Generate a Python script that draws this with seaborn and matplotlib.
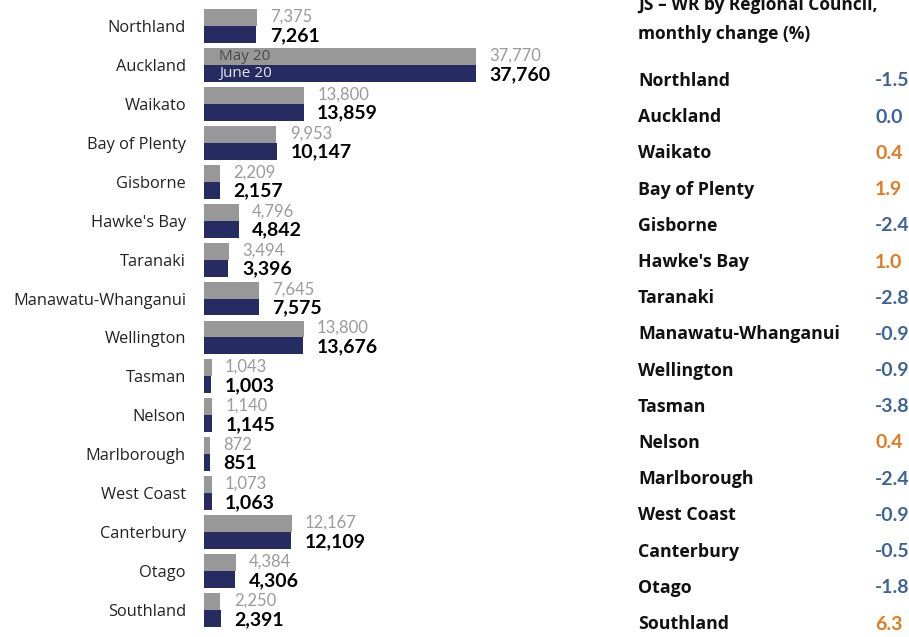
import numpy as np
import matplotlib
matplotlib.use('Agg')
import matplotlib.pyplot as plt
import seaborn as sns
import pandas as pd

regions = ['Northland', 'Auckland', 'Waikato', 'Bay of Plenty', 'Gisborne',
           "Hawke's Bay", 'Taranaki', 'Manawatu-Whanganui', 'Wellington',
           'Tasman', 'Nelson', 'Marlborough', 'West Coast', 'Canterbury',
           'Otago', 'Southland']
may20 = [7375, 37770, 13800, 9953, 2209, 4796, 3494, 7645, 13800,
         1043, 1140, 872, 1073, 12167, 4384, 2250]
june20 = [7261, 37760, 13859, 10147, 2157, 4842, 3396, 7575, 13676,
          1003, 1145, 851, 1063, 12109, 4306, 2391]
months = ['May 20', 'June 20']
change = [-1.5, 0.0, 0.4, 1.9, -2.4, 1.0, -2.8, -0.9, -0.9, -3.8,
          0.4, -2.4, -0.9, -0.5, -1.8, 6.3]

grey = '#989898'
navy = '#262b62'
blue = '#3d6496'
orange = '#e37a1f'

df = pd.DataFrame({
    'Region': regions * 2,
    'Month': [months[0]] * len(regions) + [months[1]] * len(regions),
    'Value': may20 + june20,
})

sns.set_style('white')
plt.rcParams['font.family'] = ['Open Sans', 'DejaVu Sans']

fig = plt.figure(figsize=(9.09, 6.37), dpi=100)
ax = fig.add_axes([204 / 909, 1 - 629.5 / 637, (640 - 204) / 909, 623 / 637])

sns.barplot(data=df, y='Region', x='Value', hue='Month', orient='h',
            palette=[grey, navy], width=0.87, gap=0, ax=ax, legend=False,
            saturation=1, errorbar=None, linewidth=0)

ax.set_xlim(0, 38000 * 436 / 274)
ax.set_ylim(15.5, -0.5)
ax.set(xlabel='', ylabel='')
ax.set_xticks([])
sns.despine(ax=ax, left=True, bottom=True)
ax.tick_params(axis='y', length=0, pad=13, labelsize=11.8, labelcolor='#222222')

for i, (a, b) in enumerate(zip(may20, june20)):
    end = max(a, b)
    ax.annotate(f'{a:,}', (end, i - 0.24), xytext=(9.5, 0), textcoords='offset points',
                ha='left', va='center', fontsize=12, color='#9a9a9a',
                family=['Lato', 'DejaVu Sans'])
    ax.annotate(f'{b:,}', (end, i + 0.24), xytext=(9.5, 0), textcoords='offset points',
                ha='left', va='center', fontsize=14, color='black',
                fontweight='bold', family=['Lato', 'DejaVu Sans'])

# month labels inside the Auckland bars
ax.annotate(months[0], (0, 1 - 0.22), xytext=(11, 0), textcoords='offset points',
            ha='left', va='center', fontsize=11, color='#4a4a4a')
ax.annotate(months[1], (0, 1 + 0.22), xytext=(11, 0), textcoords='offset points',
            ha='left', va='center', fontsize=11, color='#e6e6e6')

# right-hand table
fig.text(638 / 909, 1 - 5 / 637, 'JS – WR by Regional Council,', ha='left', va='center',
         fontsize=12.5, fontweight='bold', color='#111111')
fig.text(638 / 909, 1 - 34 / 637, 'monthly change (%)', ha='left', va='center',
         fontsize=12.5, fontweight='bold', color='#111111')
for i, (r, c) in enumerate(zip(regions, change)):
    y = 1 - (81 + i * 36.2) / 637
    fig.text(638 / 909, y, r, ha='left', va='center', fontsize=12.8,
             fontweight='bold', color='#111111')
    fig.text(875 / 909, y, f'{c:.1f}', ha='left', va='center', fontsize=14,
             fontweight='bold', color=orange if c > 0 else blue,
             family=['Lato', 'DejaVu Sans'])

plt.savefig('out.png', dpi=100)
